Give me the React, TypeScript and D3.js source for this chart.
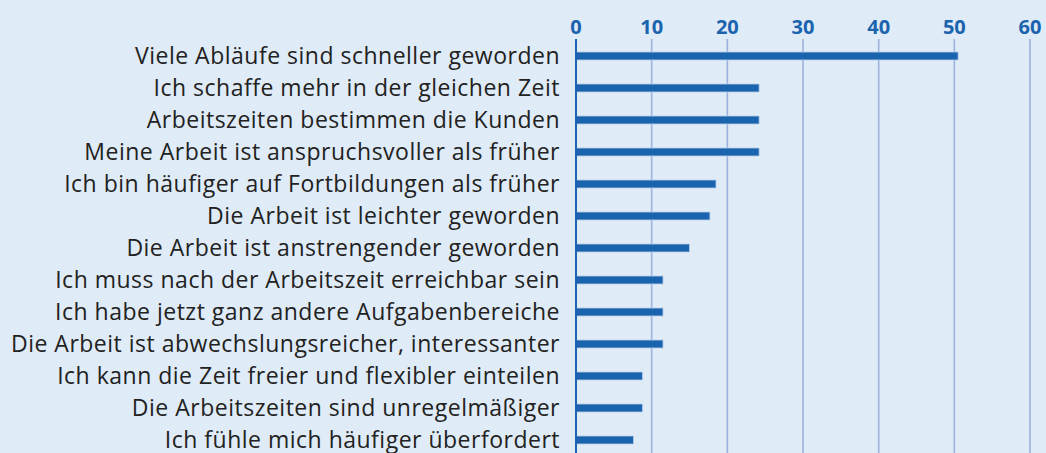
import React from "react";
import * as d3 from "d3";

const categories: string[] = [
  "Viele Abläufe sind schneller geworden",
  "Ich schaffe mehr in der gleichen Zeit",
  "Arbeitszeiten bestimmen die Kunden",
  "Meine Arbeit ist anspruchsvoller als früher",
  "Ich bin häufiger auf Fortbildungen als früher",
  "Die Arbeit ist leichter geworden",
  "Die Arbeit ist anstrengender geworden",
  "Ich muss nach der Arbeitszeit erreichbar sein",
  "Ich habe jetzt ganz andere Aufgabenbereiche",
  "Die Arbeit ist abwechslungsreicher, interessanter",
  "Ich kann die Zeit freier und flexibler einteilen",
  "Die Arbeitszeiten sind unregelmäßiger",
  "Ich fühle mich häufiger überfordert",
];
const values: number[] = [50.5, 24.2, 24.2, 24.2, 18.5, 17.7, 15.0, 11.5, 11.5, 11.5, 8.8, 8.8, 7.6];
const ticks: number[] = [0, 10, 20, 30, 40, 50, 60];

const W = 1046;
const H = 453;
const BG = "#dfebf6";
const BAR = "#1a63ae";
const GRID = "#9db2dc";

export default function App() {
  const x = d3.scaleLinear().domain([0, 60]).range([576, 1030]);
  const y = d3.scaleBand<string>().domain(categories).range([40, 456]).paddingInner(0.75).paddingOuter(0.375);
  const bh = y.bandwidth();
  return (
    <svg width={W} height={H} style={{ position: "absolute", left: 0, top: 0, display: "block" }}>
      <rect x={0} y={0} width={W} height={H} fill={BG} />
      {ticks.map((t) => (
        <g key={t}>
          {t !== 0 && (
            <line x1={x(t)} x2={x(t)} y1={39} y2={H} stroke={GRID} strokeWidth={1.6} />
          )}
          <text
            x={x(t)}
            y={34}
            textAnchor="middle"
            fill={BAR}
            fontFamily="'Open Sans', sans-serif"
            fontWeight={700}
            fontSize={20}
          >
            {t}
          </text>
        </g>
      ))}
      {categories.map((c, i) => (
        <g key={c}>
          <rect
            x={x(0)}
            y={y(c)!}
            width={x(values[i]) - x(0)}
            height={bh}
            fill={BAR}
            stroke="#b9d0ec"
            strokeWidth={0.8}
          />
          <text
            x={560}
            y={y(c)! + bh / 2 + 8}
            textAnchor="end"
            fill="#222"
            fontFamily="'Open Sans', sans-serif"
            fontSize={23}
            letterSpacing={0.5}
          >
            {c}
          </text>
        </g>
      ))}
      <line x1={x(0)} x2={x(0)} y1={39} y2={H} stroke={BAR} strokeWidth={2} />
    </svg>
  );
}
